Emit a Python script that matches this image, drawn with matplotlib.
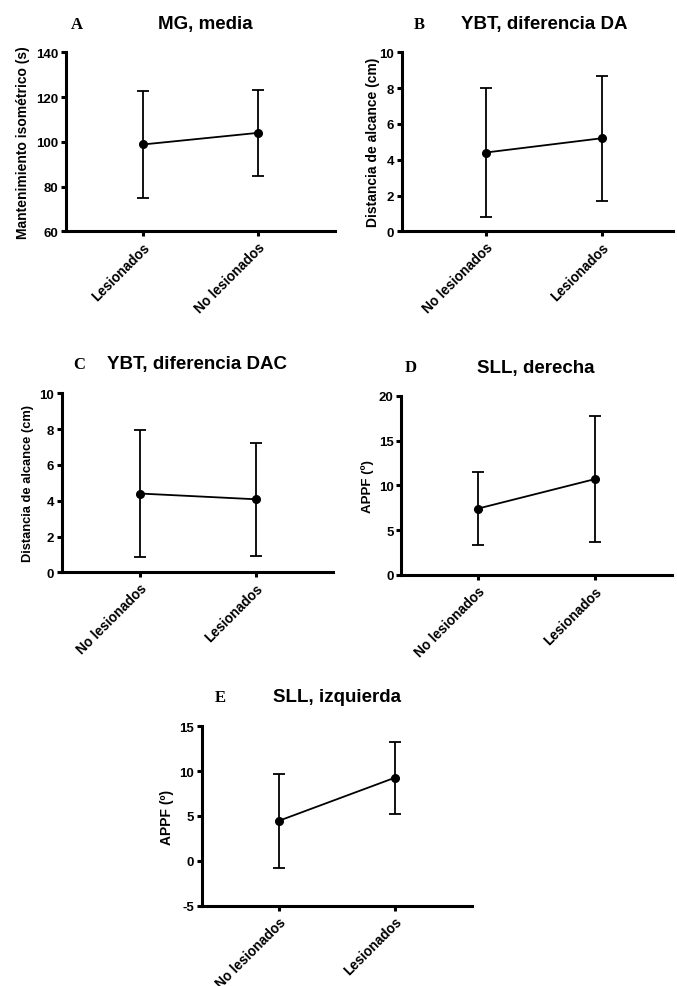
import matplotlib
matplotlib.use("Agg")
import matplotlib.pyplot as plt

plt.rcParams['font.family'] = ['Liberation Sans', 'DejaVu Sans']

# ---- data ----
cats_A = ["Lesionados", "No lesionados"]
mean_A = [98.8, 104.0]
sd_A = [24.1, 19.2]

cats_B = ["No lesionados", "Lesionados"]
mean_B = [4.4, 5.2]
sd_B = [3.6, 3.5]

cats_C = ["No lesionados", "Lesionados"]
mean_C = [4.4, 4.08]
sd_C = [3.55, 3.15]

cats_D = ["No lesionados", "Lesionados"]
mean_D = [7.4, 10.7]
sd_D = [4.1, 7.0]

cats_E = ["No lesionados", "Lesionados"]
mean_E = [4.45, 9.27]
sd_E = [5.2, 4.0]

titles = ["MG, media", "YBT, diferencia DA", "YBT, diferencia DAC",
          "SLL, derecha", "SLL, izquierda"]
letters = ["A", "B", "C", "D", "E"]
ylabels = ["Mantenimiento isométrico (s)", "Distancia de alcance (cm)",
           "Distancia de alcance (cm)", "APPF (º)", "APPF (º)"]
yticks_A = [60, 80, 100, 120, 140]
yticks_B = [0, 2, 4, 6, 8, 10]
yticks_C = [0, 2, 4, 6, 8, 10]
yticks_D = [0, 5, 10, 15, 20]
yticks_E = [-5, 0, 5, 10, 15]

W, H = 677, 987
fig = plt.figure(figsize=(W / 100, H / 100), dpi=100)

# pixel boxes: left, right, top, bottom
boxes = [(66, 335, 53.3, 232.3),
         (401.7, 673, 53.3, 232.3),
         (61.7, 333, 394.3, 573.3),
         (401, 671.7, 396.7, 576),
         (201.7, 471.7, 727.3, 906.7)]
xlims = [(-0.667, 1.667), (-0.722, 1.61), (-0.68, 1.67), (-0.654, 1.654), (-0.66, 1.66)]
title_pos = [(205, 25), (544, 25), (197, 365), (536, 368), (337, 698)]
letter_pos = [(77, 25), (419, 25), (79, 365), (411, 368), (220, 698)]
ylabel_x = [23, 373, 28, 368, 167]
ylabel_size = [10, 10, 9.3, 9.6, 10]

panels = [(cats_A, mean_A, sd_A, yticks_A),
          (cats_B, mean_B, sd_B, yticks_B),
          (cats_C, mean_C, sd_C, yticks_C),
          (cats_D, mean_D, sd_D, yticks_D),
          (cats_E, mean_E, sd_E, yticks_E)]

for i, (cats, m, sd, yt) in enumerate(panels):
    l, r, t, b = boxes[i]
    ax = fig.add_axes([l / W, 1 - b / H, (r - l) / W, (b - t) / H])
    x = list(range(len(cats)))
    ax.errorbar(x, m, yerr=sd, color='black', lw=1.3, marker='o', ms=5.5,
                capsize=4.5, capthick=1.3, elinewidth=1.3, zorder=3, clip_on=False)
    ax.set_xlim(*xlims[i])
    ax.set_ylim(yt[0], yt[-1])
    ax.set_yticks(yt)
    ax.set_yticklabels([str(v) for v in yt], fontweight='bold', fontsize=9.5)
    ax.set_xticks(x)
    ax.set_xticklabels(cats, rotation=45, ha='right', va='top',
                       rotation_mode='anchor', fontweight='bold', fontsize=9.8)
    for s in ['top', 'right']:
        ax.spines[s].set_visible(False)
    for s in ['left', 'bottom']:
        ax.spines[s].set_linewidth(2.2)
    ax.tick_params(axis='both', width=2.2, length=3.8, direction='out', pad=1.5)
    ax.tick_params(axis='x', pad=2.5)
    ax.patch.set_alpha(0)

    fig.text(title_pos[i][0] / W, 1 - title_pos[i][1] / H, titles[i],
             ha='center', va='center', fontsize=13.5, fontweight='bold')
    fig.text(letter_pos[i][0] / W, 1 - letter_pos[i][1] / H, letters[i],
             ha='center', va='center', fontsize=12, fontweight='bold',
             family='Liberation Serif')
    fig.text(ylabel_x[i] / W, 1 - ((t + b) / 2) / H, ylabels[i],
             ha='center', va='center', rotation=90,
             fontsize=ylabel_size[i], fontweight='bold')

fig.savefig("out.png", dpi=100, facecolor='white')
